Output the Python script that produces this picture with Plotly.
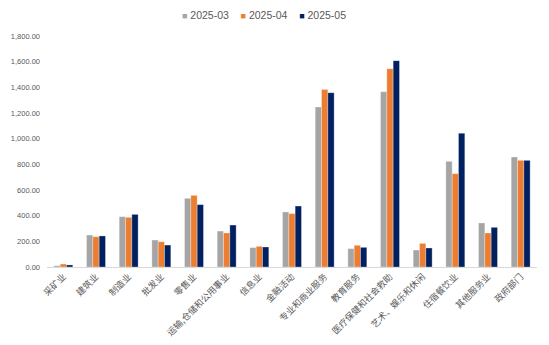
import plotly.graph_objects as go

categories = ["采矿业", "建筑业", "制造业", "批发业", "零售业", "运输,仓储和公用事业", "信息业",
              "金融活动", "专业和商业服务", "教育服务", "医疗保健和社会救助", "艺术、娱乐和休闲",
              "住宿餐饮业", "其他服务业", "政府部门"]
series_names = ["2025-03", "2025-04", "2025-05"]
v_2025_03 = [10, 249, 392, 210, 535, 280, 151, 429, 1247, 143, 1366, 132, 823, 343, 857]
v_2025_04 = [23, 236, 387, 197, 558, 265, 161, 416, 1384, 169, 1545, 184, 727, 265, 831]
v_2025_05 = [16, 242, 410, 171, 486, 327, 156, 475, 1358, 153, 1608, 148, 1042, 309, 831]
colors = ["#A5A5A5", "#ED7D31", "#002060"]
y_ticks = [0, 200, 400, 600, 800, 1000, 1200, 1400, 1600, 1800]

fig = go.Figure()
for name, vals, col in zip(series_names, [v_2025_03, v_2025_04, v_2025_05], colors):
    fig.add_trace(go.Bar(
        x=categories, y=vals, name=name, showlegend=False,
        marker=dict(color=col, line=dict(color="rgba(255,255,255,0.6)", width=0.5)),
    ))

# compact legend row: coloured square key followed by the series name
nb = "\u00a0"
legend_text = (nb * 4).join(
    f'<span style="color:{col};font-size:9px">■</span>{nb}{name}'
    for name, col in zip(series_names, colors)
)
fig.add_annotation(
    text=legend_text, xref="paper", yref="paper", x=0.442, y=1.09,
    xanchor="center", yanchor="middle", showarrow=False,
    font=dict(size=10.5, color="#595959", family="Liberation Sans, DejaVu Sans"),
)

fig.update_layout(
    width=549, height=345,
    margin=dict(l=47, r=12, t=36, b=78, autoexpand=False),
    paper_bgcolor="white", plot_bgcolor="white",
    barmode="group", bargap=0.42, bargroupgap=0,
    font=dict(family="Liberation Sans, Noto Sans CJK SC", color="#595959"),
    showlegend=False,
)
fig.update_xaxes(
    tickangle=-45, tickfont=dict(size=9, color="#595959", family="Noto Sans CJK SC"),
    showline=True, linecolor="#D9D9D9", linewidth=1, ticks="", showgrid=False,
    automargin=False,
)
fig.update_yaxes(
    range=[0, 1800], tickvals=y_ticks, tickformat=",.2f",
    tickfont=dict(size=7.5, color="#595959"), ticklabelstandoff=6,
    showgrid=False, zeroline=False, showline=False, ticks="",
    automargin=False,
)

fig.write_html("out.html")
